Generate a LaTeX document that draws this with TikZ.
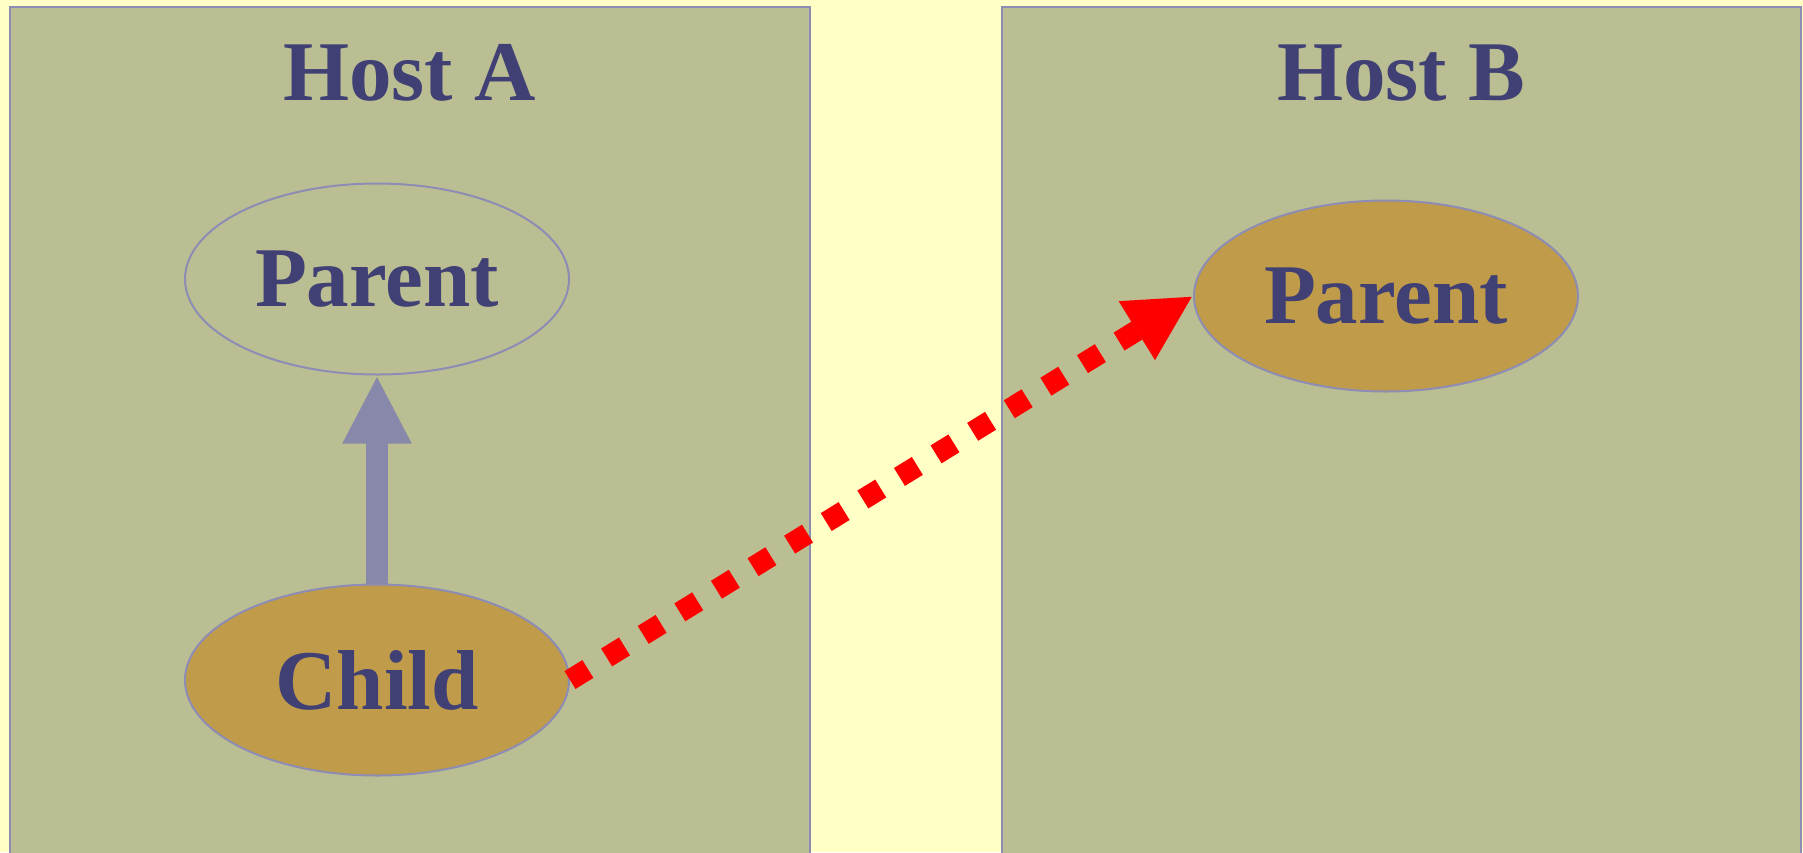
\documentclass[tikz,border=0pt]{standalone}
\usepackage{fontspec}
\setmainfont{Liberation Serif}
\usetikzlibrary{shapes.geometric,arrows.meta}
\definecolor{bgyellow}{HTML}{FFFFC6}
\definecolor{hostfill}{HTML}{BBBE92}
\definecolor{procfill}{HTML}{C09C4A}
\definecolor{labelblue}{HTML}{404075}
\definecolor{edgeblue}{HTML}{8C8CB4}
\definecolor{arrowblue}{HTML}{8888AA}
\tikzset{
  hostbox/.style={fill=hostfill, draw=edgeblue, line width=2pt},
  hostlabel/.style={anchor=base, text=labelblue, font=\fontsize{85}{100}\selectfont\bfseries, inner sep=0pt},
  proc/.style={ellipse, draw=edgeblue, line width=2pt, minimum width=384pt, minimum height=191pt, inner sep=0pt,
    text=labelblue, font=\fontsize{85}{100}\selectfont\bfseries},
  procfilled/.style={proc, fill=procfill},
  forkarrow/.style={draw=arrowblue, line width=22pt, -{Triangle[length=68pt,width=64pt]}},
  migarrow/.style={draw=red, line width=21pt, dash pattern=on 21pt off 22pt, -{Triangle[length=66pt,width=64pt]}}
}
\begin{document}
\begin{tikzpicture}[x=1pt,y=-1pt]
\useasboundingbox (0,0) rectangle (1803,852);
\clip (0,0) rectangle (1803,852);
\fill[bgyellow] (0,0) rectangle (1803,852);
\draw[hostbox] (9.5,7) rectangle (810,870);
\draw[hostbox] (1002,7) rectangle (1801,870);
\node[hostlabel] (hostA) at (409.5,100) {Host A};
\node[hostlabel] (hostB) at (1401,100) {Host B};
\node[proc] (parentA) at (377,279) {Parent};
\node[procfilled] (child) at (377,680) {Child};
\node[procfilled] (parentB) at (1386,296) {Parent};
\draw[forkarrow] (child.north) -- (parentA.south);
\draw[migarrow] (child.east) -- (parentB.west);
\end{tikzpicture}
\end{document}
